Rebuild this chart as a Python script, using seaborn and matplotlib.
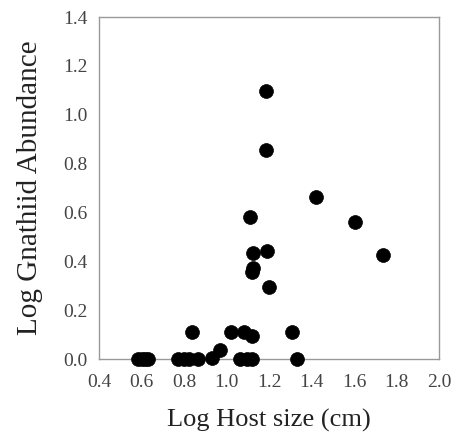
import matplotlib
matplotlib.use("Agg")
import matplotlib.pyplot as plt
import seaborn as sns
import pandas as pd

log_host_size = [0.585, 0.60, 0.617, 0.632, 0.773, 0.80, 0.823, 0.867, 0.93, 0.969,
                 1.064, 1.095, 1.118, 1.333,
                 0.839, 1.02, 1.082, 1.121, 1.31,
                 1.11, 1.126, 1.189, 1.126, 1.118, 1.20,
                 1.419, 1.605, 1.738, 1.184, 1.184]
log_abundance = [0.0, 0.0, 0.0, 0.0, 0.0, 0.0, 0.0, 0.0, 0.005, 0.037,
                 0.0, 0.0, 0.0, 0.0,
                 0.109, 0.109, 0.109, 0.094, 0.109,
                 0.583, 0.433, 0.444, 0.372, 0.358, 0.296,
                 0.665, 0.559, 0.426, 0.857, 1.098]
x_ticks = [0.4, 0.6, 0.8, 1.0, 1.2, 1.4, 1.6, 1.8, 2.0]
y_ticks = [0.0, 0.2, 0.4, 0.6, 0.8, 1.0, 1.2, 1.4]

df = pd.DataFrame({"x": log_host_size, "y": log_abundance})

sns.set_style("white")
plt.rcParams['font.family'] = ['Liberation Serif', 'DejaVu Serif']

fig = plt.figure(figsize=(4.57, 4.42), dpi=100)
ax = fig.add_axes([99/457, 83/442, 340/457, 342/442])
sns.scatterplot(data=df, x="x", y="y", ax=ax, color="black", edgecolor="black",
                s=100, linewidth=0.5, clip_on=False, zorder=3)
ax.set_xlim(0.4, 2.0)
ax.set_ylim(0.0, 1.4)
ax.set_xticks(x_ticks)
ax.set_yticks(y_ticks)
ax.set_xticklabels([f"{v:.1f}" for v in x_ticks])
ax.set_yticklabels([f"{v:.1f}" for v in y_ticks])
ax.tick_params(direction="in", length=4, width=0.8, colors="#999999",
               labelcolor="#444444", labelsize=14)
ax.tick_params(axis="x", pad=11)
ax.tick_params(axis="y", pad=8)
for sp in ax.spines.values():
    sp.set_color("#999999")
    sp.set_linewidth(1.0)
ax.set_xlabel("Log Host size (cm)", fontsize=19, color="#222222", labelpad=13)
ax.set_ylabel("Log Gnathiid Abundance", fontsize=21, color="#222222", labelpad=15)
fig.savefig("out.png", dpi=100)
